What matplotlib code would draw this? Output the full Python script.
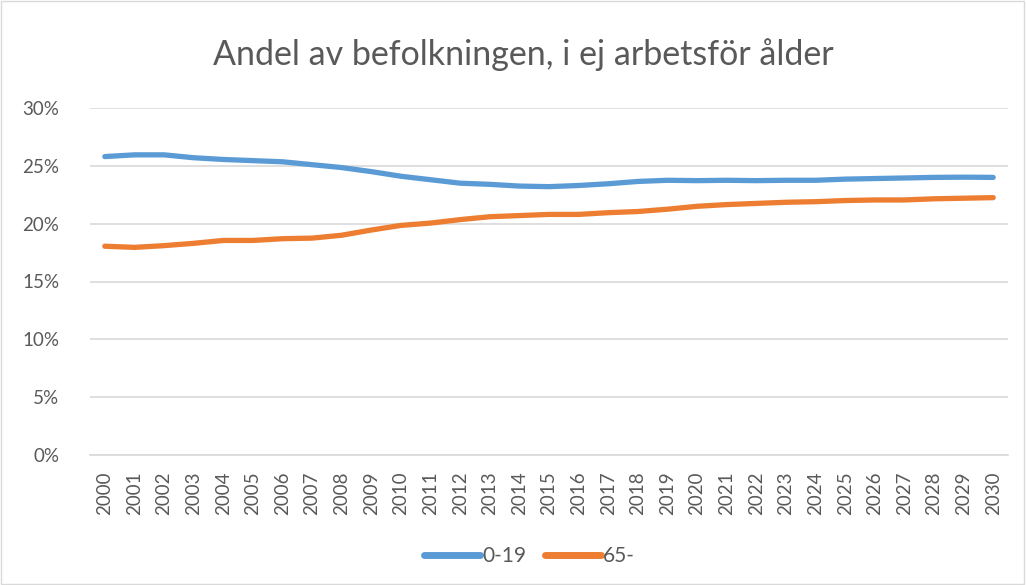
import matplotlib.pyplot as plt
from matplotlib.ticker import FuncFormatter

plt.rcParams["font.family"] = ["Lato", "DejaVu Sans"]

years = list(range(2000, 2031))
age_0_19 = [25.8, 25.95, 25.95, 25.7, 25.55, 25.45, 25.35, 25.1, 24.85, 24.5,
            24.1, 23.8, 23.5, 23.4, 23.25, 23.2, 23.3, 23.45, 23.65, 23.75,
            23.72, 23.75, 23.72, 23.75, 23.75, 23.85, 23.9, 23.95, 24.0, 24.02, 24.0]
age_65 = [18.05, 17.95, 18.1, 18.3, 18.55, 18.55, 18.7, 18.75, 19.0, 19.45,
          19.85, 20.05, 20.35, 20.6, 20.7, 20.8, 20.8, 20.95, 21.05, 21.25,
          21.5, 21.65, 21.75, 21.85, 21.9, 22.0, 22.05, 22.05, 22.15, 22.2, 22.25]
y_ticks = [0, 5, 10, 15, 20, 25, 30]

BLUE = "#5b9bd5"
ORANGE = "#ed7d31"
TXT = "#595959"

fig = plt.figure(figsize=(10.26, 5.85), dpi=100)
fig.patches.append(plt.Rectangle((0.001, 0.001), 0.997, 0.997, transform=fig.transFigure,
                                 fill=False, edgecolor="#d9d9d9", linewidth=1))
ax = fig.add_axes([90 / 1026, 1 - 455 / 585, (1008 - 90) / 1026, (455 - 108) / 585])

ax.plot(years, age_0_19, color=BLUE, linewidth=3.8, solid_capstyle="round", label="0-19")
ax.plot(years, age_65, color=ORANGE, linewidth=3.8, solid_capstyle="round", label="65-")

ax.set_xlim(years[0] - 0.5, years[-1] + 0.5)
ax.set_ylim(0, 30)
ax.set_yticks(y_ticks)
ax.yaxis.set_major_formatter(FuncFormatter(lambda v, p: f"{v:.0f}%"))
ax.set_xticks(years)
ax.set_xticklabels([str(y) for y in years], rotation=90)
ax.grid(axis="y", color="#d9d9d9", linewidth=1.2)
ax.set_axisbelow(True)
for s in ["top", "right", "left"]:
    ax.spines[s].set_visible(False)
ax.spines["bottom"].set_color("#d9d9d9")
ax.spines["bottom"].set_linewidth(1.2)
ax.tick_params(axis="both", length=0, colors=TXT, labelsize=13.5)
ax.tick_params(axis="y", pad=22)
ax.tick_params(axis="x", pad=12)

fig.text(0.51, 1 - 55 / 585, "Andel av befolkningen, i ej arbetsför ålder",
         ha="center", va="center", fontsize=24.5, color=TXT)
leg = fig.legend(loc="center", bbox_to_anchor=(0.516, 1 - 556 / 585), ncol=2, frameon=False,
                 fontsize=15, labelcolor=TXT, handlelength=2.7, columnspacing=0.9,
                 handletextpad=0.1)
for line in leg.get_lines():
    line.set_linewidth(5)

fig.savefig("out.png", dpi=100)
